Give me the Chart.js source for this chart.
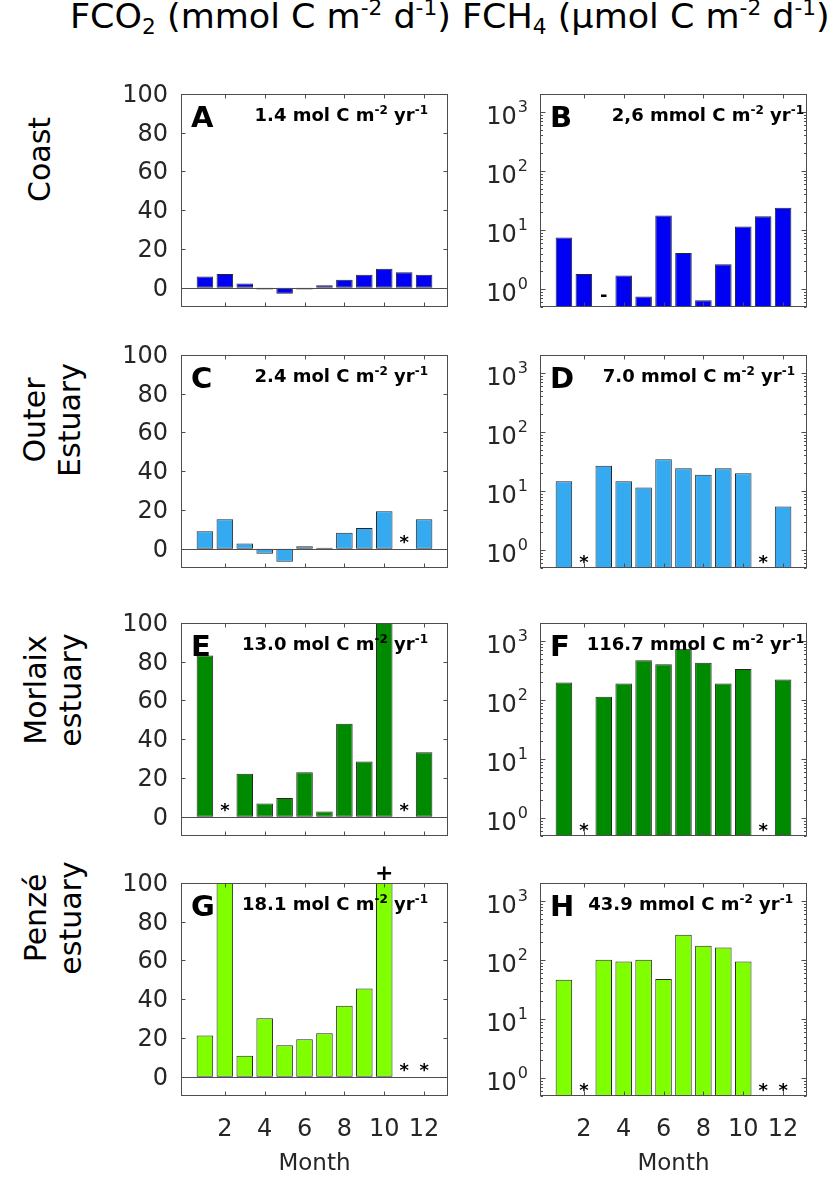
<!DOCTYPE html>
<html>
<head>
<meta charset="utf-8">
<script src="https://cdn.jsdelivr.net/npm/chart.js@4.4.1/dist/chart.umd.min.js"></script>
<style>
  body { margin: 0; background: #fff; width: 833px; height: 1178px; position: relative; overflow: hidden; font-family: 'DejaVu Sans', sans-serif; color: #000; }
  canvas { position: absolute; }
  #header { position: absolute; left: 70px; top: 0; font-size: 33px; line-height: 33px; white-space: nowrap; transform-origin: 0 0; }
  #header sub, #header sup { font-size: 0.62em; line-height: 0; }
  #header sub { vertical-align: -0.3em; }
  #header sup { vertical-align: 0.65em; }
  .rowlab { position: absolute; font-size: 30px; line-height: 35px; text-align: center; white-space: nowrap; transform: rotate(-90deg); }
</style>
</head>
<body>
<div id="header">FCO<sub>2</sub> (mmol C m<sup>-2</sup> d<sup>-1</sup>) FCH<sub>4</sub> (µmol C m<sup>-2</sup> d<sup>-1</sup>)</div>

<script>
// months and ticks
const months = [1, 2, 3, 4, 5, 6, 7, 8, 9, 10, 11, 12];
const monthTicks = [2, 4, 6, 8, 10, 12];
const co2Ticks = [0, 20, 40, 60, 80, 100];
const ch4Ticks = [1, 10, 100, 1000];

const siteNames = [['Coast'], ['Outer', 'Estuary'], ['Morlaix', 'estuary'], ['Penzé', 'estuary']];
const co2Letters = ['A', 'C', 'E', 'G'];
const ch4Letters = ['B', 'D', 'F', 'H'];
const co2Totals = ['1.4', '2.4', '13.0', '18.1'];
const ch4Totals = ['2,6', '7.0', '116.7', '43.9'];
const siteColors = ['#0000f2', '#36aaf0', '#008a00', '#80ff00'];

// FCO2, mmol C m-2 d-1
const coastCO2   = [5.7, 7.1, 2.1, -1.0, -3.1, -1.0, 1.2, 4.1, 6.6, 9.8, 7.9, 6.6];
const outerCO2   = [9.0, 15.2, 2.7, -2.6, -6.8, 1.2, 0.5, 8.2, 10.6, 19.3, null, 15.2];
const morlaixCO2 = [83.2, null, 22.1, 6.8, 9.6, 22.9, 2.6, 48.0, 28.5, 100, null, 33.2];
const penzeCO2   = [21.2, 100, 10.8, 30.1, 16.2, 19.3, 22.4, 36.6, 45.5, 100, null, null];

// FCH4, umol C m-2 d-1
const coastCH4   = [7.5, 1.8, null, 1.7, 0.75, 17.6, 4.1, 0.65, 2.65, 11.5, 17.2, 23.8];
const outerCH4   = [14.7, null, 26.7, 14.7, 11.5, 34.6, 24.4, 18.8, 24.4, 20.1, null, 5.5];
const morlaixCH4 = [198, null, 113, 190, 471, 403, 731, 425, 190, 332, null, 222];
const penzeCH4   = [46.3, null, 100.7, 94.5, 101, 47.5, 266, 174, 163, 94.5, null, null];

// symbols written in place of a bar ('*' no data, '+' off scale, '-' negative)
const coastCO2Marks   = ['', '', '', '', '', '', '', '', '', '', '', ''];
const outerCO2Marks   = ['', '', '', '', '', '', '', '', '', '', '*', ''];
const morlaixCO2Marks = ['', '*', '', '', '', '', '', '', '', '', '*', ''];
const penzeCO2Marks   = ['', '', '', '', '', '', '', '', '', '+', '*', '*'];
const coastCH4Marks   = ['', '', '-', '', '', '', '', '', '', '', '', ''];
const outerCH4Marks   = ['', '*', '', '', '', '', '', '', '', '', '*', ''];
const morlaixCH4Marks = ['', '*', '', '', '', '', '', '', '', '', '*', ''];
const penzeCH4Marks   = ['', '*', '', '', '', '', '', '', '', '', '*', '*'];

const co2Series = [coastCO2, outerCO2, morlaixCO2, penzeCO2];
const ch4Series = [coastCH4, outerCH4, morlaixCH4, penzeCH4];
const co2Marks = [coastCO2Marks, outerCO2Marks, morlaixCO2Marks, penzeCO2Marks];
const ch4Marks = [coastCH4Marks, outerCH4Marks, morlaixCH4Marks, penzeCH4Marks];

// layout
const rowTops = [94, 355, 623, 883];
const boxH = 213;
const labelCenters = [[39, 159], [52, 420], [52, 690], [52, 918]];
const ch4TotalInset = [3, 12, 3, 14];

Chart.defaults.font.family = "'DejaVu Sans', sans-serif";

// fit the header to its width in the figure
const header = document.getElementById('header');
header.style.transform = 'scaleX(' + (760 / header.offsetWidth) + ')';

siteNames.forEach((lines, i) => {
  const d = document.createElement('div');
  d.className = 'rowlab';
  d.innerHTML = lines.join('<br>');
  document.body.appendChild(d);
  const w = d.offsetWidth, h = d.offsetHeight;
  d.style.left = (labelCenters[i][0] - w / 2) + 'px';
  d.style.top = (labelCenters[i][1] - h / 2) + 'px';
});

function line(ctx, x1, y1, x2, y2) {
  ctx.beginPath(); ctx.moveTo(x1, y1); ctx.lineTo(x2, y2); ctx.stroke();
}

// draws text with alternating normal / superscript parts, right aligned
function drawRich(ctx, parts, xRight, y) {
  const big = 'bold 18px "DejaVu Sans"', small = 'bold 12px "DejaVu Sans"';
  let total = 0;
  parts.forEach((p, k) => { ctx.font = k % 2 ? small : big; total += ctx.measureText(p).width; });
  let x = xRight - total;
  ctx.textAlign = 'left'; ctx.textBaseline = 'alphabetic';
  parts.forEach((p, k) => {
    ctx.font = k % 2 ? small : big;
    ctx.fillText(p, x, k % 2 ? y - 7 : y);
    x += ctx.measureText(p).width;
  });
}

const decor = {
  id: 'decor',
  afterDatasetsDraw(chart, args, o) {
    const ctx = chart.ctx, a = chart.chartArea;
    const xs = chart.scales.x, ys = chart.scales.y;
    const L = Math.round(a.left) + 0.5, R = Math.round(a.right) - 0.5;
    const T = Math.round(a.top) + 0.5, B = Math.round(a.bottom) - 0.5;
    ctx.save();
    ctx.strokeStyle = '#4d4d4d';
    ctx.lineWidth = 1;
    if (!o.log) {
      const y0 = Math.round(ys.getPixelForValue(0)) + 0.5;
      line(ctx, L, y0, R, y0);
    }
    ctx.strokeRect(L, T, R - L, B - T);
    monthTicks.forEach(m => {
      const x = Math.round(xs.getPixelForValue(m)) + 0.5;
      line(ctx, x, T, x, T + 4);
      line(ctx, x, B, x, B - 4);
    });
    ctx.fillStyle = '#262626';
    ctx.textBaseline = 'middle';
    ctx.textAlign = 'right';
    if (o.log) {
      for (let k = -1; k <= 3; k++) {
        for (let m = 1; m <= 9; m++) {
          const v = m * Math.pow(10, k);
          if (v < ys.min || v > ys.max) continue;
          const y = Math.round(ys.getPixelForValue(v)) + 0.5;
          const len = m === 1 ? 5 : 2.5;
          line(ctx, L, y, L + len, y);
          line(ctx, R, y, R - len, y);
        }
      }
      // log tick labels 10^n
      ch4Ticks.forEach(v => {
        const y = ys.getPixelForValue(v);
        const e = String(Math.round(Math.log10(v)));
        ctx.font = '16px "DejaVu Sans"';
        const ew = ctx.measureText(e).width;
        ctx.fillText(e, a.left - 12, y - 4);
        ctx.font = '24px "DejaVu Sans"';
        ctx.fillText('10', a.left - 13 - ew, y + 6);
      });
    } else {
      ctx.font = '24px "DejaVu Sans"';
      co2Ticks.forEach(v => {
        const y = Math.round(ys.getPixelForValue(v)) + 0.5;
        line(ctx, L, y, L + 4, y);
        line(ctx, R, y, R - 4, y);
        ctx.fillText(String(v), a.left - 13, y + 1);
      });
    }
    // symbols for missing / off-scale months
    ctx.fillStyle = '#000';
    ctx.textAlign = 'center';
    ctx.textBaseline = 'alphabetic';
    o.marks.forEach((s, i) => {
      if (!s) return;
      const x = xs.getPixelForValue(months[i]);
      let y;
      if (s === '+') {
        ctx.font = 'bold 22px "DejaVu Sans"';
        y = a.top - 11 + 8;
      } else {
        ctx.font = 'bold 18px "DejaVu Sans"';
        const yc = ys.getPixelForValue(o.log ? 0.78 : 6);
        y = s === '*' ? yc + 11 : yc + 5;
      }
      ctx.fillText(s, x, y);
    });
    // panel letter and annual total
    ctx.font = 'bold 29px "DejaVu Sans"';
    ctx.textAlign = 'left';
    ctx.fillText(o.letter, a.left + 10, a.top + 33);
    drawRich(ctx, o.total, a.right - o.inset, a.top + 27);
    ctx.restore();
  }
};

function makePanel(row, isCh4) {
  const bottomRow = row === 3;
  const values = isCh4 ? ch4Series[row] : co2Series[row];
  const cv = document.createElement('canvas');
  const xAxisH = bottomRow ? 82 : 0;
  const padBottom = bottomRow ? 0 : 6;
  cv.width = 360;
  cv.height = 40 + boxH + xAxisH + padBottom;
  cv.style.left = (isCh4 ? 459 : 100) + 'px';
  cv.style.top = (rowTops[row] - 40) + 'px';
  document.body.appendChild(cv);

  const yScale = isCh4 ? {
    type: 'logarithmic', min: 0.5, max: 2000,
    afterBuildTicks: s => { s.ticks = ch4Ticks.map(v => ({ value: v })); }
  } : {
    type: 'linear', min: -10, max: 100,
    afterBuildTicks: s => { s.ticks = co2Ticks.map(v => ({ value: v })); }
  };
  yScale.ticks = { display: false };
  yScale.grid = { display: false, drawTicks: false };
  yScale.border = { display: false };
  yScale.afterFit = s => { s.width = 81; };

  new Chart(cv, {
    type: 'bar',
    data: {
      datasets: [{
        data: months.map((m, i) => ({ x: m, y: values[i] })),
        backgroundColor: siteColors[row],
        borderColor: '#262626',
        borderWidth: 1,
        borderSkipped: false,
        barPercentage: 0.83,
        categoryPercentage: 1
      }]
    },
    options: {
      responsive: false,
      animation: false,
      layout: { autoPadding: false, padding: { top: 40, right: 12, bottom: padBottom, left: 0 } },
      plugins: {
        legend: { display: false },
        tooltip: { enabled: false },
        decor: {
          log: isCh4,
          marks: isCh4 ? ch4Marks[row] : co2Marks[row],
          letter: isCh4 ? ch4Letters[row] : co2Letters[row],
          inset: isCh4 ? ch4TotalInset[row] : 20,
          total: isCh4 ? [ch4Totals[row] + ' mmol C m', '-2', ' yr', '-1']
                       : [co2Totals[row] + ' mol C m', '-2', ' yr', '-1']
        }
      },
      scales: {
        x: {
          type: 'linear', min: -0.2, max: 13.2, offset: false,
          grid: { display: false, drawTicks: false },
          border: { display: false },
          afterBuildTicks: s => { s.ticks = monthTicks.map(v => ({ value: v })); },
          afterFit: s => { s.height = xAxisH; },
          ticks: { display: bottomRow, font: { size: 24 }, color: '#262626', padding: 19, maxRotation: 0, autoSkip: false },
          title: { display: bottomRow, text: 'Month', font: { size: 23 }, color: '#262626', padding: 0 }
        },
        y: yScale
      }
    },
    plugins: [decor]
  });
}

for (let r = 0; r < 4; r++) {
  makePanel(r, false);
  makePanel(r, true);
}
</script>
</body>
</html>
